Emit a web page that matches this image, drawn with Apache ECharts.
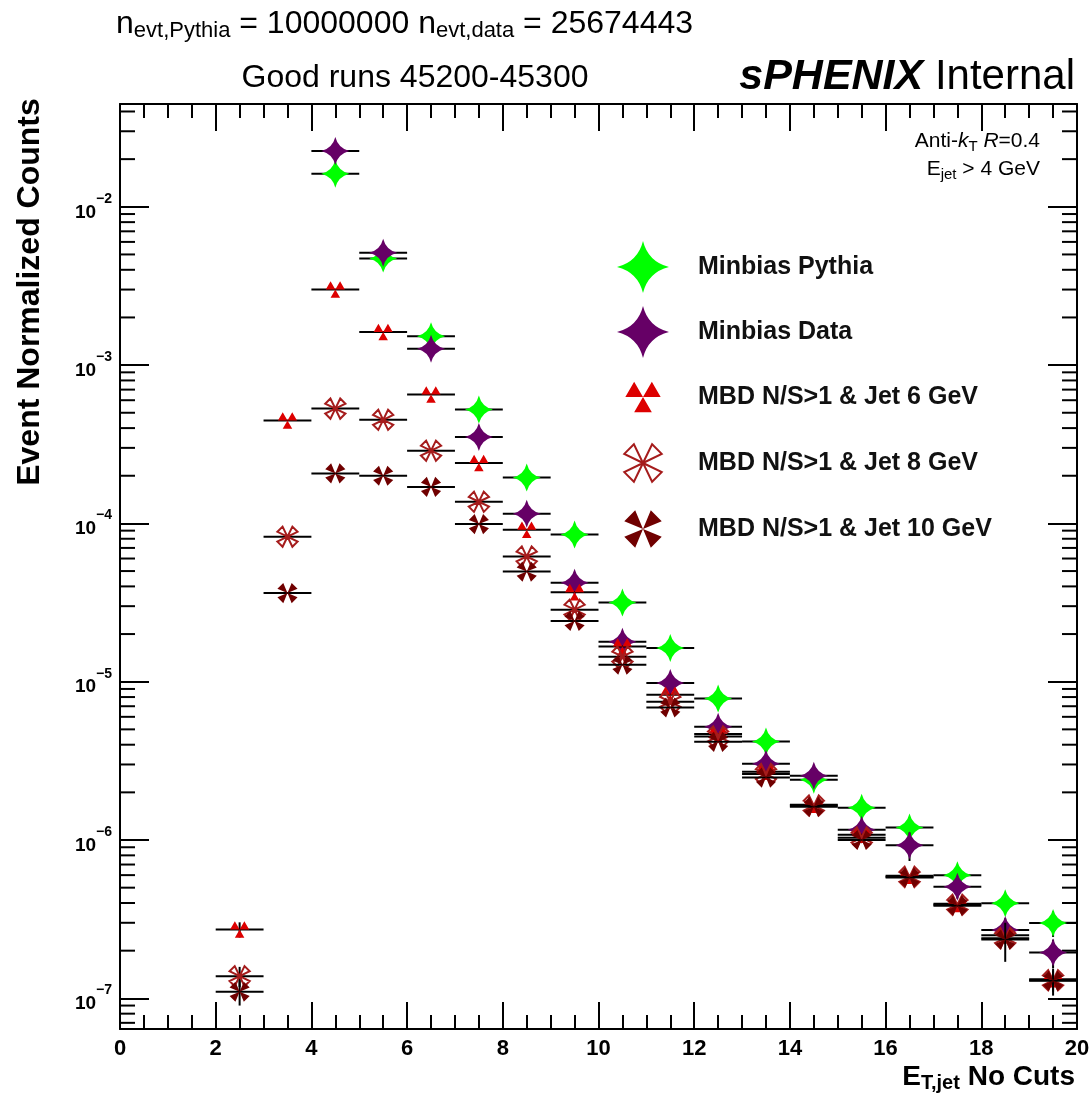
<!DOCTYPE html>
<html>
<head>
<meta charset="utf-8">
<script src="https://cdn.jsdelivr.net/npm/echarts@6/dist/echarts.min.js"></script>
<style>
html, body { margin: 0; padding: 0; background: #fff; }
#chart { width: 1091px; height: 1104px; }
</style>
</head>
<body>
<div id="chart"></div>
<script>
// bin centres (E_T,jet, GeV), bin width 1
var binCenters = [2.5, 3.5, 4.5, 5.5, 6.5, 7.5, 8.5, 9.5, 10.5, 11.5, 12.5, 13.5, 14.5, 15.5, 16.5, 17.5, 18.5, 19.5];

// event normalized counts
var pythiaVals = [null, null, 0.0162, 4.71e-3, 1.52e-3, 5.24e-4, 1.95e-4, 8.5e-5, 3.17e-5, 1.63e-5, 7.83e-6, 4.19e-6, 2.40e-6, 1.60e-6, 1.20e-6, 6.0e-7, 3.98e-7, 2.99e-7];
var dataVals = [null, null, 0.0225, 5.12e-3, 1.27e-3, 3.51e-4, 1.15e-4, 4.22e-5, 1.79e-5, 9.8e-6, 5.19e-6, 3.03e-6, 2.55e-6, 1.16e-6, 9.27e-7, 5.07e-7, 2.70e-7, 1.95e-7];
var jet6Vals = [2.72e-7, 4.46e-4, 3.0e-3, 1.62e-3, 6.53e-4, 2.41e-4, 9.12e-5, 3.68e-5, 1.67e-5, 8.26e-6, 4.67e-6, 2.70e-6, 1.67e-6, 1.08e-6, 5.95e-7, 3.95e-7, 2.5e-7, 1.32e-7];
var jet8Vals = [1.38e-7, 8.24e-5, 5.31e-4, 4.51e-4, 2.88e-4, 1.37e-4, 6.18e-5, 2.85e-5, 1.44e-5, 7.46e-6, 4.51e-6, 2.61e-6, 1.65e-6, 1.035e-6, 5.85e-7, 3.9e-7, 2.4e-7, 1.30e-7];
var jet10Vals = [1.10e-7, 3.63e-5, 2.07e-4, 2.0e-4, 1.70e-4, 9.9e-5, 4.96e-5, 2.42e-5, 1.28e-5, 6.87e-6, 4.17e-6, 2.48e-6, 1.62e-6, 1.0e-6, 5.8e-7, 3.85e-7, 2.35e-7, 1.29e-7];

// vertical errors (only the visible ones)
var pythiaErr = [0, 0, 0, 0, 0, 0, 0, 0, 0, 0, 0, 0, 0, 0, 0, 4e-8, 4e-8, 5.5e-8];
var dataErr = [0, 0, 0, 0, 0, 0, 0, 0, 0, 0, 0, 0, 0, 0, 1.9e-7, 8e-8, 5e-8, 4e-8];
var jet6Err = [3e-8, 0, 0, 0, 0, 0, 0, 0, 0, 0, 0, 0, 0, 0, 0, 0, 0, 0];
var jet8Err = [2e-8, 0, 0, 0, 0, 0, 0, 0, 0, 0, 0, 0, 0, 0, 0, 0, 0, 2e-8];
var jet10Err = [2e-8, 0, 0, 0, 0, 0, 0, 0, 0, 0, 0, 0, 0, 0, 0, 0, 6.5e-8, 2.5e-8];

var seriesNames = ['Minbias Pythia', 'Minbias Data', 'MBD N/S>1 & Jet 6 GeV', 'MBD N/S>1 & Jet 8 GeV', 'MBD N/S>1 & Jet 10 GeV'];

// minor log ticks
var minorMult = [2, 3, 4, 5, 6, 7, 8, 9];
var decades = [-8, -7, -6, -5, -4, -3, -2];

var xMin = 0, xMax = 20;
var yMin = 6.4e-8, yMax = 0.0446;
var FONT = '"Liberation Sans", Arial, Helvetica, sans-serif';

// ROOT-like marker shapes (box -10..10 so sizes stay relative)
var PAD = 'M-10,-10 L-10,-10 M10,10 L10,10 ';
var starPath = 'path://' + PAD + 'M0,-10 Q2,-2 10,0 Q2,2 0,10 Q-2,2 -10,0 Q-2,-2 0,-10 Z';
var triPath = 'path://' + PAD + 'M-6.8,0 L-3.4,-5.9 L0,0 Z M0,0 L3.4,-5.9 L6.8,0 Z M-3.4,5.9 L0,0 L3.4,5.9 Z';
var openXPath = 'path://' + PAD + 'M0,0 L3.5,-7.2 L7.2,-3.5 Z M0,0 L7.2,3.5 L3.5,7.2 Z M0,0 L-3.5,7.2 L-7.2,3.5 Z M0,0 L-7.2,-3.5 L-3.5,-7.2 Z';
var fullXPath = 'path://' + PAD + 'M0,0 L3,-7.2 L7.2,-3 Z M0,0 L7.2,3 L3,7.2 Z M0,0 L-3,7.2 L-7.2,3 Z M0,0 L-7.2,-3 L-3,-7.2 Z';

function pts(vals) {
    var out = [];
    for (var i = 0; i < binCenters.length; i++) {
        if (vals[i] != null) out.push([binCenters[i], vals[i]]);
    }
    return out;
}
function errPts(vals, errs) {
    var out = [];
    for (var i = 0; i < binCenters.length; i++) {
        if (vals[i] != null) out.push([binCenters[i], vals[i], errs[i]]);
    }
    return out;
}

var minorTicks = [];
decades.forEach(function (d) {
    minorMult.forEach(function (m) {
        var v = m * Math.pow(10, d);
        if (v > yMin && v < yMax) minorTicks.push([xMin, v]);
    });
});

function renderErr(params, api) {
    var x = api.value(0), y = api.value(1), e = api.value(2);
    var a = api.coord([x - 0.5, y]);
    var b = api.coord([x + 0.5, y]);
    var kids = [{
        type: 'line',
        shape: { x1: a[0], y1: a[1], x2: b[0], y2: b[1] },
        style: { stroke: '#000', lineWidth: 2 }
    }];
    if (e > 0) {
        var t = api.coord([x, y + e]);
        var bo = api.coord([x, Math.max(y - e, yMin)]);
        kids.push({
            type: 'line',
            shape: { x1: t[0], y1: t[1], x2: bo[0], y2: bo[1] },
            style: { stroke: '#000', lineWidth: 2 }
        });
    }
    return { type: 'group', children: kids };
}

function errSeries(vals, errs, z) {
    return {
        type: 'custom',
        coordinateSystem: 'cartesian2d',
        renderItem: renderErr,
        data: errPts(vals, errs),
        encode: { x: 0, y: 1 },
        silent: true,
        z: z
    };
}

function markerSeries(name, vals, symbol, style, z) {
    style.opacity = 1;
    return {
        name: name,
        type: 'scatter',
        symbol: symbol,
        symbolSize: 28,
        data: pts(vals),
        itemStyle: style,
        z: z
    };
}

var axisLine = { show: true, onZero: false, lineStyle: { color: '#000', width: 2 } };
var tickStyle = { color: '#000', width: 2 };

var chart = echarts.init(document.getElementById('chart'));
var option = {
    animation: false,
    backgroundColor: '#fff',
    grid: { left: 120, right: 14, top: 104, bottom: 75, outerBoundsMode: 'none' },
    legend: {
        data: seriesNames,
        orient: 'vertical',
        left: 616,
        top: 241,
        padding: 0,
        itemWidth: 100,
        itemHeight: 52,
        itemGap: 13,
        selectedMode: false,
        textStyle: { fontSize: 25, fontWeight: 'bold', fontFamily: FONT, color: '#111' }
    },
    xAxis: [{
        type: 'value', min: xMin, max: xMax, interval: 2, position: 'bottom',
        axisLine: axisLine,
        axisTick: { inside: true, length: 27, lineStyle: tickStyle },
        minorTick: { show: true, splitNumber: 4, length: 14, lineStyle: tickStyle },
        splitLine: { show: false },
        axisLabel: { margin: 9, color: '#000', fontSize: 22, fontWeight: 'bold', fontFamily: FONT }
    }, {
        type: 'value', min: xMin, max: xMax, interval: 2, position: 'top',
        axisLine: axisLine,
        axisTick: { inside: true, length: 27, lineStyle: tickStyle },
        minorTick: { show: true, splitNumber: 4, length: 14, lineStyle: tickStyle },
        splitLine: { show: false },
        axisLabel: { show: false }
    }],
    yAxis: [{
        type: 'log', logBase: 10, min: yMin, max: yMax, position: 'left',
        axisLine: axisLine,
        axisTick: { inside: true, length: 29, lineStyle: tickStyle },
        splitLine: { show: false },
        axisLabel: {
            margin: 8,
            formatter: function (v) {
                var e = Math.log10(v);
                if (Math.abs(e - Math.round(e)) > 1e-6) return '';
                e = Math.round(e);
                return '{b|10}{s|' + (e < 0 ? '\u2212' + (-e) : e) + '}';
            },
            rich: {
                b: { fontSize: 19, fontWeight: 'bold', fontFamily: FONT, color: '#000', lineHeight: 30, verticalAlign: 'bottom' },
                s: { fontSize: 14, fontWeight: 'bold', fontFamily: FONT, color: '#000', lineHeight: 15, verticalAlign: 'top' }
            }
        }
    }, {
        type: 'log', logBase: 10, min: yMin, max: yMax, position: 'right',
        axisLine: axisLine,
        axisTick: { inside: true, length: 29, lineStyle: tickStyle },
        splitLine: { show: false },
        axisLabel: { show: false }
    }],
    series: [
        {
            type: 'custom',
            coordinateSystem: 'cartesian2d',
            data: minorTicks,
            encode: { x: 0, y: 1 },
            silent: true,
            z: 1,
            renderItem: function (params, api) {
                var v = api.value(1);
                var l = api.coord([xMin, v]);
                var r = api.coord([xMax, v]);
                return {
                    type: 'group', children: [
                        { type: 'line', shape: { x1: l[0], y1: l[1], x2: l[0] + 15, y2: l[1] }, style: { stroke: '#000', lineWidth: 2 } },
                        { type: 'line', shape: { x1: r[0] - 15, y1: r[1], x2: r[0], y2: r[1] }, style: { stroke: '#000', lineWidth: 2 } }
                    ]
                };
            }
        },
        errSeries(pythiaVals, pythiaErr, 2),
        markerSeries(seriesNames[0], pythiaVals, starPath, { color: '#00ff00' }, 3),
        errSeries(dataVals, dataErr, 4),
        markerSeries(seriesNames[1], dataVals, starPath, { color: '#660066' }, 5),
        errSeries(jet6Vals, jet6Err, 6),
        markerSeries(seriesNames[2], jet6Vals, triPath, { color: '#dd0000' }, 7),
        errSeries(jet8Vals, jet8Err, 8),
        markerSeries(seriesNames[3], jet8Vals, openXPath, { color: 'rgba(255,255,255,0)', borderColor: '#a51c1c', borderWidth: 2 }, 9),
        errSeries(jet10Vals, jet10Err, 10),
        markerSeries(seriesNames[4], jet10Vals, fullXPath, { color: '#700000' }, 11)
    ],
    graphic: [{
        type: 'text', x: 116, y: 8,
        style: {
            text: '{m|n}{s|evt,Pythia}{m| = 10000000 n}{s|evt,data}{m| = 25674443}',
            align: 'left', verticalAlign: 'top',
            rich: {
                m: { fontSize: 32, fontFamily: FONT, color: '#000', lineHeight: 34, verticalAlign: 'top' },
                s: { fontSize: 22, fontFamily: FONT, color: '#000', lineHeight: 24, verticalAlign: 'bottom', padding: [18, 0, 0, 0] }
            }
        }
    }, {
        type: 'text', x: 415, y: 78,
        style: { text: 'Good runs 45200-45300', fontSize: 32, fontFamily: FONT, fill: '#000', align: 'center', verticalAlign: 'middle' }
    }, {
        type: 'text', x: 1075, y: 77,
        style: {
            text: '{b|sPHENIX}{r| Internal}',
            align: 'right', verticalAlign: 'middle',
            rich: {
                b: { fontSize: 43, fontFamily: FONT, fontWeight: 'bold', fontStyle: 'italic', color: '#000' },
                r: { fontSize: 42, fontFamily: FONT, color: '#000' }
            }
        }
    }, {
        type: 'text', x: 1040, y: 131,
        style: {
            text: '{r|Anti-}{i|k}{t|T}{r| }{i|R}{r|=0.4}',
            align: 'right', verticalAlign: 'top',
            rich: {
                r: { fontSize: 21, fontFamily: FONT, color: '#000', lineHeight: 23, verticalAlign: 'top' },
                i: { fontSize: 21, fontFamily: FONT, fontStyle: 'italic', color: '#000', lineHeight: 23, verticalAlign: 'top' },
                t: { fontSize: 15, fontFamily: FONT, color: '#000', lineHeight: 15, verticalAlign: 'bottom', padding: [11, 0, 0, 0] }
            }
        }
    }, {
        type: 'text', x: 1040, y: 159,
        style: {
            text: '{r|E}{t|jet}{r| > 4 GeV}',
            align: 'right', verticalAlign: 'top',
            rich: {
                r: { fontSize: 21, fontFamily: FONT, color: '#000', lineHeight: 23, verticalAlign: 'top' },
                t: { fontSize: 15, fontFamily: FONT, color: '#000', lineHeight: 15, verticalAlign: 'bottom', padding: [11, 0, 0, 0] }
            }
        }
    }, {
        type: 'text', x: 1075, y: 1063,
        style: {
            text: '{m|E}{s|T,jet}{m| No Cuts}',
            align: 'right', verticalAlign: 'top',
            rich: {
                m: { fontSize: 28, fontFamily: FONT, fontWeight: 'bold', color: '#000', lineHeight: 30, verticalAlign: 'top' },
                s: { fontSize: 20, fontFamily: FONT, fontWeight: 'bold', color: '#000', lineHeight: 22, verticalAlign: 'bottom', padding: [14, 0, 0, 0] }
            }
        }
    }, {
        type: 'text', x: 30, y: 292, rotation: Math.PI / 2,
        style: { text: 'Event Normalized Counts', fontSize: 32, fontWeight: 'bold', fontFamily: FONT, fill: '#000', align: 'center', verticalAlign: 'middle' }
    }]
};
chart.setOption(option);
</script>
</body>
</html>
